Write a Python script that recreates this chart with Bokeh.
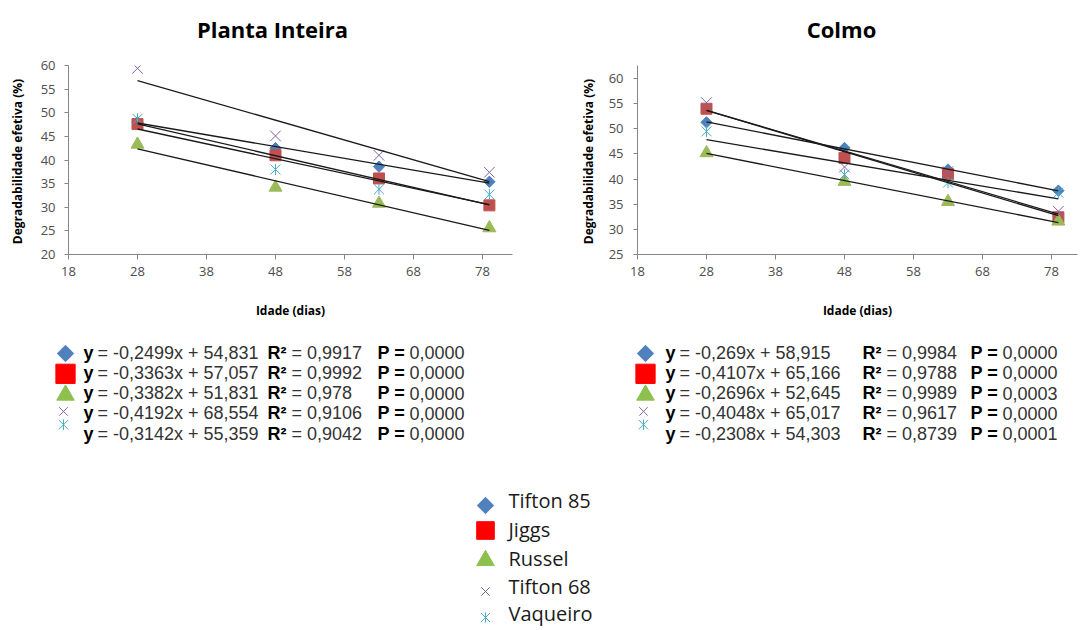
import math
from bokeh.plotting import figure
from bokeh.layouts import column, row
from bokeh.models import Range1d, FixedTicker
from bokeh.core.properties import value
from bokeh.embed import file_html
from bokeh.resources import INLINE

# ---------------- data ----------------
ages = [28, 48, 63, 79]
series_names = ["Tifton 85", "Jiggs", "Russel", "Tifton 68", "Vaqueiro"]
chart_titles = ["Planta Inteira", "Colmo"]

# Planta Inteira
pi_tifton85 = [48.0, 42.5, 38.6, 35.4]
pi_jiggs = [47.6, 41.0, 36.1, 30.4]
pi_russel = [43.3, 34.2, 30.8, 25.6]
pi_tifton68 = [59.4, 45.1, 41.0, 37.4]
pi_vaqueiro = [48.7, 38.0, 33.8, 32.7]

# Colmo
co_tifton85 = [51.3, 46.2, 41.9, 37.7]
co_jiggs = [54.0, 44.2, 41.0, 32.4]
co_russel = [45.2, 39.5, 35.5, 31.6]
co_tifton68 = [55.2, 42.4, 41.5, 33.6]
co_vaqueiro = [49.5, 40.9, 39.3, 37.3]

# regression equations
pi_slope = [-0.2499, -0.3363, -0.3382, -0.4192, -0.3142]
pi_intercept = [54.831, 57.057, 51.831, 68.554, 55.359]
pi_r2 = [0.9917, 0.9992, 0.978, 0.9106, 0.9042]
pi_p = ["0,0000", "0,0000", "0,0000", "0,0000", "0,0000"]

co_slope = [-0.269, -0.4107, -0.2696, -0.4048, -0.2308]
co_intercept = [58.915, 65.166, 52.645, 65.017, 54.303]
co_r2 = [0.9984, 0.9788, 0.9989, 0.9617, 0.8739]
co_p = ["0,0000", "0,0000", "0,0003", "0,0000", "0,0001"]

x_ticks = [18, 28, 38, 48, 58, 68, 78]
pi_y_ticks = [20, 25, 30, 35, 40, 45, 50, 55, 60]
co_y_ticks = [25, 30, 35, 40, 45, 50, 55, 60]

# ---------------- styles ----------------
C_BLUE = "#4F81BD"
C_RED = "#C0504D"
C_GREEN = "#9BBB59"
C_PURPLE = "#8064A2"
C_CYAN = "#4BACC6"

chart_styles = [
    dict(marker="square", angle=math.pi / 4, size=8, fill_color=C_BLUE, line_color=C_BLUE),
    dict(marker="square", angle=0, size=11, fill_color=C_RED, line_color=C_RED),
    dict(marker="triangle", angle=0, size=13, fill_color=C_GREEN, line_color=C_GREEN),
    dict(marker="x", angle=0, size=15, fill_color=None, line_color=C_PURPLE),
    dict(marker="x", angle=0, size=14, fill_color=None, line_color=C_CYAN),
]


def fmt(v):
    return str(v).replace(".", ",")


def draw_marker(p, xs, ys, style, scale=1.0, lw=1.0, colors=None):
    st = dict(style)
    if colors is not None:
        st["fill_color"] = colors if st["fill_color"] is not None else None
        st["line_color"] = colors
    size = st.pop("size") * scale
    is_star = style["line_color"] == C_CYAN
    p.scatter(xs, ys, size=size, line_width=lw, **st)
    if is_star:
        # six-armed star: add the vertical stroke
        p.scatter(xs, ys, marker="dash", angle=math.pi / 2, size=size * 0.8,
                  line_color=st["line_color"], line_width=lw)


def blank_fig(w, h, xr, yr):
    f = figure(width=w, height=h, x_range=Range1d(*xr), y_range=Range1d(*yr),
               output_backend="svg", toolbar_location=None, x_axis_location=None,
               y_axis_location=None, min_border=0)
    f.outline_line_color = None
    f.grid.visible = False
    return f


def make_chart(data, slopes, intercepts, y_start, y_end, y_ticks,
               width, bl, br, x_end, tick_standoff, label_standoff):
    p = figure(width=width, height=275, x_range=Range1d(18, x_end),
               y_range=Range1d(y_start, y_end), output_backend="svg",
               toolbar_location=None, min_border_left=bl, min_border_right=br,
               min_border_top=15, min_border_bottom=71)
    p.outline_line_color = None
    p.grid.visible = False

    p.xaxis.ticker = FixedTicker(ticks=x_ticks)
    p.yaxis.ticker = FixedTicker(ticks=y_ticks)
    for ax in (p.xaxis, p.yaxis):
        ax.axis_line_color = "#868686"
        ax.major_tick_line_color = "#868686"
        ax.minor_tick_line_color = None
        ax.major_tick_in = 0
        ax.major_label_text_font = "Open Sans"
        ax.major_label_text_font_size = "13px"
        ax.major_label_text_color = "#4d4d4d"
        ax.axis_label_text_font = "Open Sans"
        ax.axis_label_text_font_style = "bold"
        ax.axis_label_text_font_size = "12px"
        ax.axis_label_text_color = "#000000"
    p.xaxis.major_tick_out = 5
    p.yaxis.major_tick_out = 4
    p.xaxis.major_label_standoff = 7
    p.yaxis.major_label_standoff = tick_standoff
    p.xaxis.axis_label = "Idade (dias)"
    p.yaxis.axis_label = "Degradabilidade  efetiva (%)"
    p.xaxis.axis_label_standoff = 23
    p.yaxis.axis_label_standoff = label_standoff

    for vals, st in zip(data, chart_styles):
        draw_marker(p, ages, vals, st)

    x_line = [min(ages), max(ages)]
    for s, b in zip(slopes, intercepts):
        p.line(x_line, [s * x + b for x in x_line], line_color="#1a1a1a", line_width=1.3)
    return p


# ---------------- titles row ----------------
tt = blank_fig(1085, 50, (0, 1085), (50, 0))
tt.text(x=[272, 841], y=[28, 28], text=chart_titles, text_font=value("Open Sans"),
        text_font_style="bold", text_font_size="22px", text_align="center",
        text_baseline="middle", text_color="#000000")

left = make_chart([pi_tifton85, pi_jiggs, pi_russel, pi_tifton68, pi_vaqueiro],
                  pi_slope, pi_intercept, 20, 60, pi_y_ticks,
                  560, 68, 48, 82.35, 9, 12)
right = make_chart([co_tifton85, co_jiggs, co_russel, co_tifton68, co_vaqueiro],
                   co_slope, co_intercept, 25, 62.6, co_y_ticks,
                   525, 77, 8, 81.77, 10, 9)

# ---------------- equations block ----------------
eq = blank_fig(1085, 135, (0, 1085), (460, 325))

legend_colors = [C_BLUE, "#FF0000", "#8DC04E", C_PURPLE, C_CYAN]
eq_marker_scale = [1.45, 1.75, 1.35, 0.8, 0.95]
eq_marker_dy = [1, 1, 2, -2, -9]

row_y = [352 + i * 20.3 for i in range(5)]
FONT = value("Liberation Sans")
for (x0, x1, x2, mx), slopes, inter, r2s, ps in [
        ((83, 267, 377, 65), pi_slope, pi_intercept, pi_r2, pi_p),
        ((665, 862, 970, 645), co_slope, co_intercept, co_r2, co_p)]:
    eq.text(x=[x0] * 5, y=row_y, text=["y"] * 5, text_font=FONT, text_font_style="bold",
            text_font_size="18px", text_baseline="middle", text_color="#000000")
    eq.text(x=[x0 + 14] * 5, y=row_y,
            text=[f"= {fmt(s)}x + {fmt(b)}" for s, b in zip(slopes, inter)],
            text_font=FONT, text_font_size="18px", text_baseline="middle",
            text_color="#333333")
    eq.text(x=[x1] * 5, y=row_y, text=["R²"] * 5, text_font=FONT, text_font_style="bold",
            text_font_size="18px", text_baseline="middle", text_color="#000000")
    eq.text(x=[x1 + 24] * 5, y=row_y, text=[f"= {fmt(r)}" for r in r2s],
            text_font=FONT, text_font_size="18px", text_baseline="middle",
            text_color="#333333")
    eq.text(x=[x2] * 5, y=row_y, text=["P ="] * 5, text_font=FONT, text_font_style="bold",
            text_font_size="18px", text_baseline="middle", text_color="#000000")
    eq.text(x=[x2 + 32] * 5, y=row_y, text=ps,
            text_font=FONT, text_font_size="18px", text_baseline="middle",
            text_color="#333333")
    for i, st in enumerate(chart_styles):
        draw_marker(eq, [mx - (2 if i >= 3 else 0)], [row_y[i] + eq_marker_dy[i]], st,
                    scale=eq_marker_scale[i], colors=legend_colors[i])

# ---------------- series legend ----------------
lg = blank_fig(1085, 168, (0, 1085), (628, 460))
lg_y = [500, 529, 558, 586, 613]
lg_dy = [5, 1, 2, 5, 4]
lg_scale = [1.45, 1.6, 1.35, 0.8, 0.9]
lg.text(x=[508] * 5, y=lg_y, text=series_names, text_font=value("Open Sans"),
        text_font_size="20px", text_baseline="middle", text_color="#1a1a1a")
for i, st in enumerate(chart_styles):
    draw_marker(lg, [485], [lg_y[i] + lg_dy[i]], st, scale=lg_scale[i],
                colors=legend_colors[i])

page = column(tt, row(left, right), eq, lg, spacing=0)
open("out.html", "w").write(file_html(page, INLINE))
